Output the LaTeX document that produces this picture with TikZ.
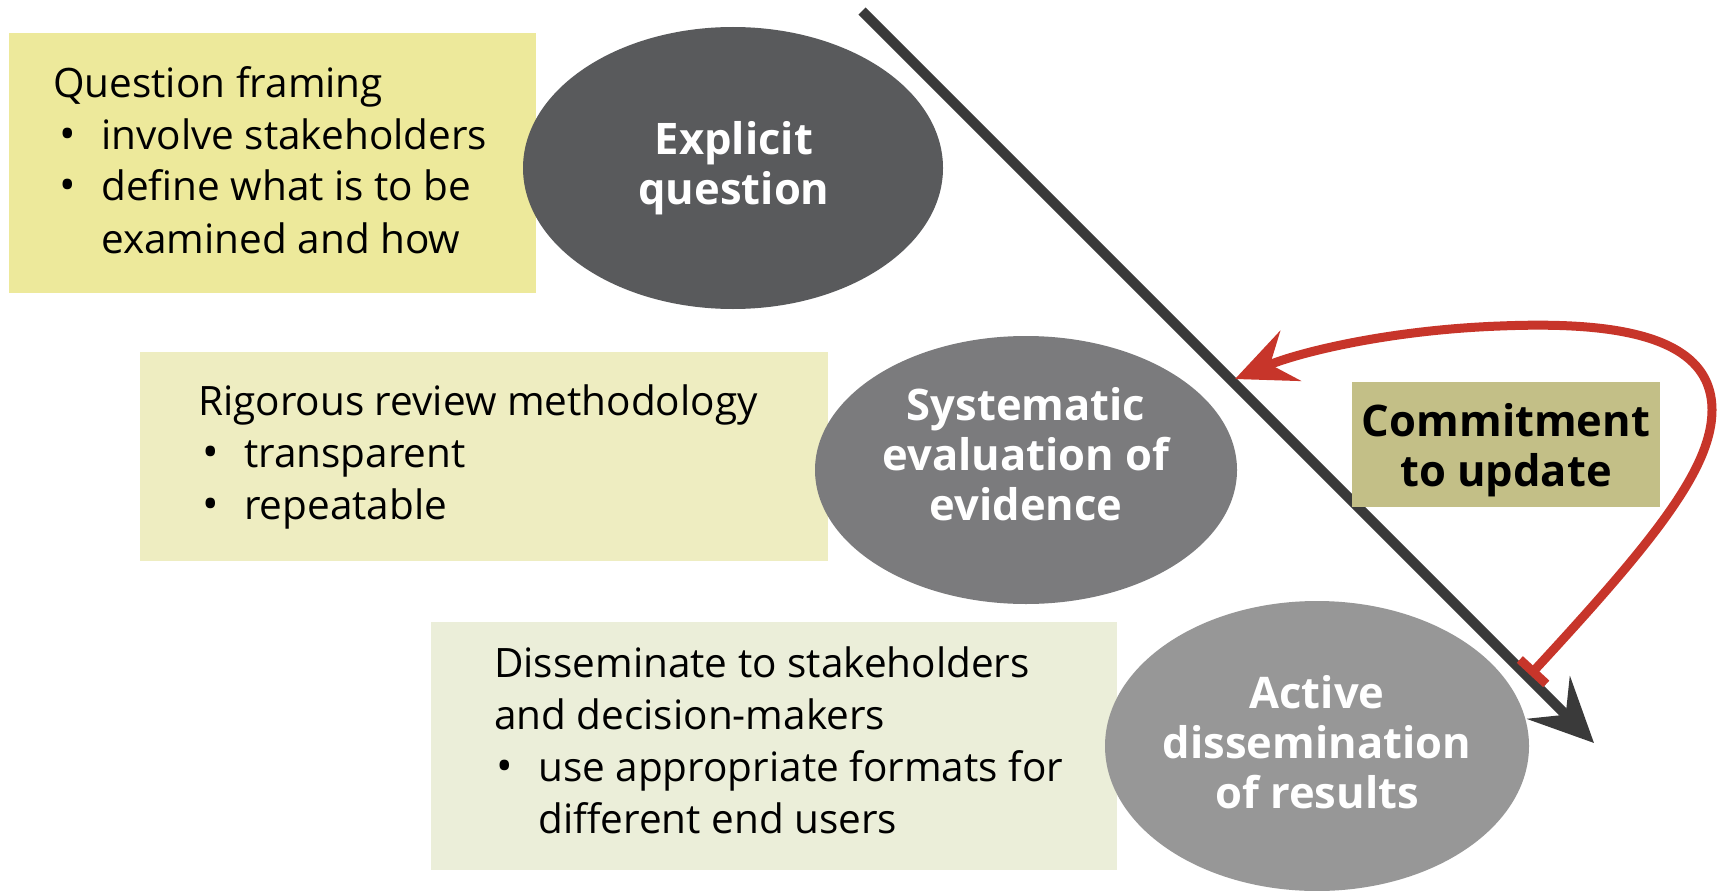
\documentclass[tikz,border=0pt]{standalone}
\usepackage{fontspec}
\setmainfont{Open Sans}
\usetikzlibrary{arrows.meta,shapes.geometric}
\definecolor{boxA}{HTML}{EDE99B}
\definecolor{boxB}{HTML}{EEEDC1}
\definecolor{boxC}{HTML}{EBEED9}
\definecolor{ellA}{HTML}{595A5C}
\definecolor{ellB}{HTML}{7B7B7D}
\definecolor{ellC}{HTML}{979797}
\definecolor{commitc}{HTML}{C3BF87}
\definecolor{arrowc}{HTML}{3A3A3A}
\definecolor{redc}{HTML}{C7352A}
\newcommand\mydot{{\fontsize{44}{44}\selectfont\textbullet}}
\newcommand\myitem[2]{\hspace*{#1}\makebox[#2][l]{\mydot}}
\begin{document}
\begin{tikzpicture}[x=1pt,y=-1pt,
  infobox/.style={rectangle, inner sep=0pt, draw=none},
  infotext/.style={anchor=base west, inner sep=0pt, font=\fontsize{40.5}{52}\selectfont, text=black},
  stage/.style={ellipse, inner sep=0pt, draw=none},
  stagetext/.style={anchor=base, inner sep=0pt, font=\bfseries\fontsize{43.5}{50}\selectfont, text=white}
]
\useasboundingbox (0,0) rectangle (1721,891);
\fill[white] (0,0) rectangle (1721,891);

% boxes
\node[infobox, fill=boxA, minimum width=527pt, minimum height=260pt] (b1) at (272.5,163) {};
\node[infobox, fill=boxB, minimum width=688pt, minimum height=209pt] (b2) at (484,456.5) {};
\node[infobox, fill=boxC, minimum width=686pt, minimum height=248pt] (b3) at (774,746) {};

\node[infotext] (t1) at (53,97) {\begin{tabular}[t]{@{}l@{}}Question framing\\
\myitem{6pt}{42pt}involve stakeholders\\
\myitem{6pt}{42pt}define what is to be\\
\hspace*{48pt}examined and how\end{tabular}};

\node[infotext] (t2) at (198,415) {\begin{tabular}[t]{@{}l@{}}Rigorous review methodology\\
\myitem{4pt}{42pt}transparent\\
\myitem{4pt}{42pt}repeatable\end{tabular}};

\node[infotext] (t3) at (494,677) {\begin{tabular}[t]{@{}l@{}}Disseminate to stakeholders\\
and decision-makers\\
\myitem{2pt}{42pt}use appropriate formats for\\
\hspace*{44pt}different end users\end{tabular}};

% ellipses
\node[stage, fill=ellA, minimum width=420pt, minimum height=282pt] (e1) at (733,168) {};
\node[stage, fill=ellB, minimum width=422pt, minimum height=268pt] (e2) at (1026,470) {};
\node[stage, fill=ellC, minimum width=424pt, minimum height=290pt] (e3) at (1317,746) {};

\node[stagetext] (l1) at (734,154) {\begin{tabular}[t]{@{}c@{}}Explicit\\question\end{tabular}};
\node[stagetext] (l2) at (1026,420) {\begin{tabular}[t]{@{}c@{}}Systematic\\evaluation of\\evidence\end{tabular}};
\node[stagetext] (l3) at (1317,708) {\begin{tabular}[t]{@{}c@{}}Active\\dissemination\\of results\end{tabular}};

% main arrow
\coordinate (as) at (862,11);
\coordinate (ae) at (1594,743);
\draw[arrowc, line width=10pt, -{Stealth[length=64pt,width=60pt,inset=24pt]}] (as) -- (ae);

% commitment box
\node[infobox, fill=commitc, minimum width=308pt, minimum height=125pt] (cb) at (1506,444.5) {};
\node[stagetext, text=black] (cl) at (1506,436) {\begin{tabular}[t]{@{}c@{}}Commitment\\to update\end{tabular}};

% red feedback arrow
\coordinate (rs) at (1530,675);
\coordinate (rm) at (1712,410);
\coordinate (rt) at (1500,326);
\coordinate (re) at (1235,379);
\draw[redc, line width=9pt, {Bar[width=36pt,length=7pt]}-{Stealth[length=60pt,width=54pt,inset=22pt]}]
  (rs) .. controls (1650,545) and (1712,470) .. (rm)
       .. controls (1712,330) and (1600,322) .. (rt)
       .. controls (1390,330) and (1300,352) .. (re);
\end{tikzpicture}
\end{document}
